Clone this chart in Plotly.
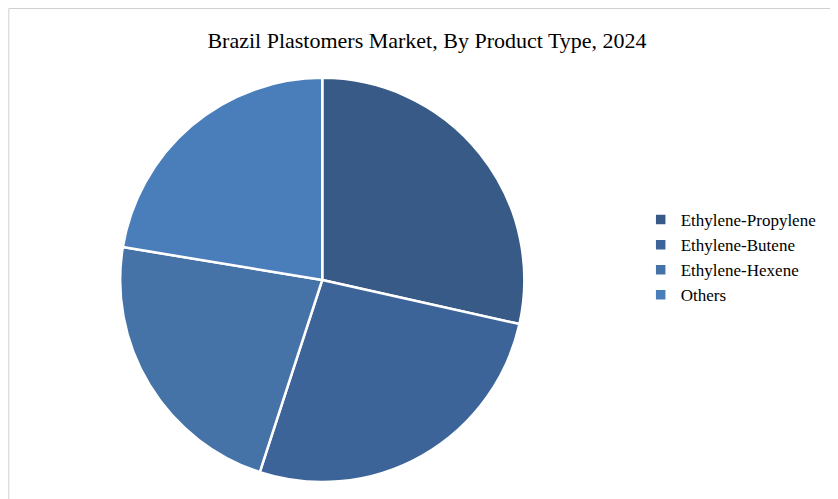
import plotly.graph_objects as go

labels = ["Ethylene-Propylene", "Ethylene-Butene", "Ethylene-Hexene", "Others"]
values = [28.5, 26.5, 22.6, 22.4]
colors = ["#375a87", "#3d6499", "#4573a7", "#4a7ebb"]

fig = go.Figure(go.Pie(
    labels=labels, values=values, sort=False, direction="clockwise", rotation=0,
    marker=dict(colors=colors, line=dict(color="white", width=2.5)),
    textinfo="none", hoverinfo="label+percent",
    domain=dict(x=[0.13, 0.62], y=[0.05, 0.86]),
))
fig.update_layout(
    width=838, height=499, paper_bgcolor="white",
    margin=dict(l=0, r=0, t=0, b=0),
    font=dict(family="Liberation Serif, Georgia, serif", color="#000"),
    title=dict(text="Brazil Plastomers Market, By Product Type, 2024", x=0.5, xanchor="center",
               y=0.935, yanchor="middle", font=dict(size=22)),
    legend=dict(x=0.755, y=0.5, xanchor="left", yanchor="middle", font=dict(size=17),
                itemwidth=30, tracegroupgap=0),
    shapes=[dict(type="rect", xref="paper", yref="paper", x0=0.001, y0=0.001, x1=0.999, y1=0.999,
                 line=dict(color="#d0d0d0", width=1))],
)
fig.write_html("out.html")
